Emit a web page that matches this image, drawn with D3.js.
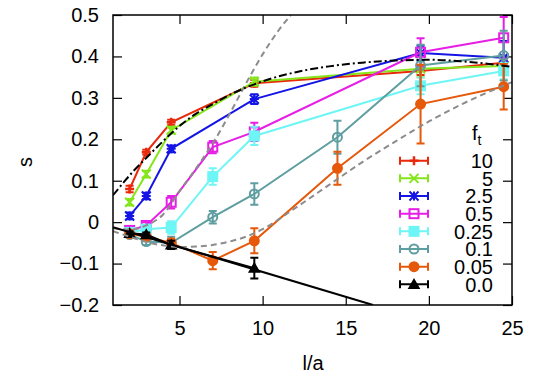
<!DOCTYPE html>
<html>
<head>
<meta charset="utf-8">
<script src="https://cdn.jsdelivr.net/npm/d3@7"></script>
<style>
  body { margin: 0; background: #fff; }
  svg text { font-family: "Liberation Sans", Arial, sans-serif; fill: #000; }
</style>
</head>
<body>
<script>
// data
const xTicks = [5, 10, 15, 20, 25];
const yTicks = [-0.2, -0.1, 0, 0.1, 0.2, 0.3, 0.4, 0.5];
const ftLabels = ["10", "5", "2.5", "0.5", "0.25", "0.1", "0.05", "0.0"];
const colors = ["#e8290b", "#84e61a", "#1414e6", "#e61ee6", "#6ef5f5", "#5f9ea0", "#e6580a", "#000000"];
const markers = ["plus", "cross", "star", "square", "squareFill", "circle", "circleFill", "triangle"];

const lenA = [2, 3, 4.5, 9.5, 19.5, 24.5];
const lenB = [2, 3, 4.5, 7, 9.5, 19.5, 24.5];
const lenC = [2, 3, 4.5, 7, 9.5, 14.5, 19.5, 24.5];
const lenD = [2, 3, 4.5, 9.5];

const s10 = [0.08, 0.169, 0.241, 0.335, 0.365, 0.385];
const e10 = [0.008, 0.006, 0.006, 0.008, 0.01, 0.01];
const s5 = [0.048, 0.116, 0.222, 0.339, 0.37, 0.377];
const e5 = [0.008, 0.008, 0.008, 0.01, 0.02, 0.02];
const s25 = [0.015, 0.063, 0.177, 0.297, 0.408, 0.397];
const e25 = [0.008, 0.008, 0.008, 0.012, 0.018, 0.04];
const s05 = [-0.02, -0.008, 0.048, 0.181, 0.218, 0.41, 0.445];
const e05 = [0.005, 0.008, 0.015, 0.015, 0.022, 0.034, 0.05];
const s025 = [-0.025, -0.017, -0.013, 0.11, 0.208, 0.329, 0.365];
const e025 = [0.005, 0.008, 0.015, 0.02, 0.022, 0.02, 0.02];
const s01 = [-0.03, -0.047, -0.05, 0.012, 0.068, 0.205, 0.378, 0.402];
const e01 = [0.005, 0.008, 0.015, 0.015, 0.026, 0.04, 0.05, 0.06];
const s005 = [-0.028, -0.035, -0.05, -0.093, -0.045, 0.13, 0.285, 0.327];
const e005 = [0.005, 0.005, 0.01, 0.021, 0.03, 0.04, 0.095, 0.055];
const s00 = [-0.027, -0.03, -0.055, -0.111];
const e00 = [0.005, 0.005, 0.01, 0.025];

const seriesX = [lenA, lenA, lenA, lenB, lenB, lenC, lenC, lenD];
const seriesY = [s10, s5, s25, s05, s025, s01, s005, s00];
const seriesE = [e10, e5, e25, e05, e025, e01, e005, e00];

// reference curves
const lineX = [1, 16.64];
const lineY = [-0.012, -0.2];
const dashDotX = [1, 1.6, 2.2, 3, 4, 5, 6, 7, 8, 9, 10, 12, 14, 16, 18, 20, 22, 25];
const dashDotY = [0.065, 0.094, 0.122, 0.155, 0.195, 0.232, 0.262, 0.285, 0.307, 0.325, 0.34, 0.362, 0.376, 0.385, 0.39, 0.392, 0.388, 0.375];
const steepX = [1, 2, 3, 4, 5, 6, 7, 8, 9, 10, 11, 11.7];
const steepY = [-0.015, -0.018, -0.008, 0.018, 0.075, 0.13, 0.19, 0.26, 0.335, 0.405, 0.465, 0.5];
const lowX = [1, 2, 3, 4, 5, 6, 7, 8, 9, 10, 12, 14, 16, 18, 20, 22, 25];
const lowY = [-0.022, -0.035, -0.048, -0.056, -0.06, -0.059, -0.055, -0.047, -0.035, -0.017, 0.035, 0.09, 0.145, 0.195, 0.243, 0.285, 0.338];

const W = 550, H = 373;
const mLeft = 113, mTop = 15, mRight = 512, mBottom = 305;

const svg = d3.select("body").append("svg")
  .attr("width", W).attr("height", H);

const x = d3.scaleLinear().domain([1, 25]).range([mLeft, mRight]);
const y = d3.scaleLinear().domain([-0.2, 0.5]).range([mBottom, mTop]);

svg.append("defs").append("clipPath").attr("id", "clip")
  .append("rect").attr("x", mLeft).attr("y", mTop)
  .attr("width", mRight - mLeft).attr("height", mBottom - mTop);

// axes, ticks pointing inwards on all sides
const fmtY = d => d === 0 ? "0" : d3.format(".1f")(d);
svg.append("g").attr("transform", `translate(${mLeft},0)`)
  .call(d3.axisLeft(y).tickValues(yTicks).tickSize(-9).tickPadding(14).tickFormat(fmtY));
svg.append("g").attr("transform", `translate(${mRight},0)`)
  .call(d3.axisRight(y).tickValues(yTicks).tickSize(-9).tickFormat(""));
svg.append("g").attr("transform", `translate(0,${mBottom})`)
  .call(d3.axisBottom(x).tickValues(xTicks).tickSize(-9).tickPadding(16));
svg.append("g").attr("transform", `translate(0,${mTop})`)
  .call(d3.axisTop(x).tickValues(xTicks).tickSize(-9).tickFormat(""));
svg.selectAll(".domain").remove();
svg.selectAll(".tick line").attr("stroke", "#000").attr("stroke-width", 1.2);
svg.selectAll(".tick text").attr("font-size", 20).attr("font-family", "Liberation Sans, Arial, sans-serif");

svg.append("text").attr("x", 313).attr("y", 370).attr("text-anchor", "middle")
  .attr("font-size", 20).text("l/a");
svg.append("text").attr("transform", "translate(32,162) rotate(-90)")
  .attr("text-anchor", "middle").attr("font-size", 20).text("s");

const plot = svg.append("g").attr("clip-path", "url(#clip)");

function marker(g, type, cx, cy, col) {
  const r = 4.5;
  if (type === "plus") {
    g.append("path").attr("d", `M${cx - r},${cy}H${cx + r}M${cx},${cy - r}V${cy + r}`)
      .attr("stroke", col).attr("stroke-width", 2.5).attr("fill", "none");
  } else if (type === "cross") {
    g.append("path").attr("d", `M${cx - r},${cy - r}L${cx + r},${cy + r}M${cx - r},${cy + r}L${cx + r},${cy - r}`)
      .attr("stroke", col).attr("stroke-width", 2).attr("fill", "none");
  } else if (type === "star") {
    g.append("path").attr("d", `M${cx - r},${cy - r}L${cx + r},${cy + r}M${cx - r},${cy + r}L${cx + r},${cy - r}M${cx - r},${cy}H${cx + r}M${cx},${cy - r}V${cy + r}`)
      .attr("stroke", col).attr("stroke-width", 2).attr("fill", "none");
  } else if (type === "square" || type === "squareFill") {
    g.append("rect").attr("x", cx - r).attr("y", cy - r).attr("width", 2 * r).attr("height", 2 * r)
      .attr("stroke", col).attr("stroke-width", 2)
      .attr("fill", type === "square" ? "none" : col);
  } else if (type === "circle" || type === "circleFill") {
    g.append("circle").attr("cx", cx).attr("cy", cy).attr("r", r)
      .attr("stroke", col).attr("stroke-width", 2)
      .attr("fill", type === "circle" ? "none" : col);
  } else if (type === "triangle") {
    g.append("path").attr("d", d3.symbol(d3.symbolTriangle, 70)())
      .attr("transform", `translate(${cx},${cy + 1})`)
      .attr("fill", col);
  }
}

// data series with error bars
seriesY.forEach((vals, i) => {
  const col = colors[i];
  const xs = seriesX[i];
  const errs = seriesE[i];
  const g = plot.append("g");
  const pts = vals.map((v, j) => [xs[j], v]);
  g.append("path").datum(pts)
    .attr("d", d3.line().x(d => x(d[0])).y(d => y(d[1])))
    .attr("fill", "none").attr("stroke", col).attr("stroke-width", 2);
  pts.forEach((p, j) => {
    const px = x(p[0]);
    const y1 = y(p[1] + errs[j]), y2 = y(p[1] - errs[j]);
    g.append("path")
      .attr("d", `M${px},${y1}V${y2}M${px - 4},${y1}H${px + 4}M${px - 4},${y2}H${px + 4}`)
      .attr("stroke", col).attr("stroke-width", 2).attr("fill", "none");
    marker(g, markers[i], px, y(p[1]), col);
  });
});

// reference curves
const curve = d3.line().x(d => x(d[0])).y(d => y(d[1])).curve(d3.curveMonotoneX);
const zip = (a, b) => a.map((v, i) => [v, b[i]]);
plot.append("path").datum(zip(steepX, steepY)).attr("d", curve)
  .attr("fill", "none").attr("stroke", "#8c8c8c").attr("stroke-width", 2).attr("stroke-dasharray", "6,4");
plot.append("path").datum(zip(lowX, lowY)).attr("d", curve)
  .attr("fill", "none").attr("stroke", "#8c8c8c").attr("stroke-width", 2).attr("stroke-dasharray", "6,4");
plot.append("path").datum(zip(dashDotX, dashDotY)).attr("d", curve)
  .attr("fill", "none").attr("stroke", "#000").attr("stroke-width", 2).attr("stroke-dasharray", "8,3,2,3");
plot.append("path").datum(zip(lineX, lineY)).attr("d", d3.line().x(d => x(d[0])).y(d => y(d[1])))
  .attr("fill", "none").attr("stroke", "#000").attr("stroke-width", 2);

// frame
svg.append("rect").attr("x", mLeft).attr("y", mTop)
  .attr("width", mRight - mLeft).attr("height", mBottom - mTop)
  .attr("fill", "none").attr("stroke", "#000").attr("stroke-width", 1.5);

// legend
const leg = svg.append("g");
const t = leg.append("text").attr("x", 472).attr("y", 140).attr("font-size", 20);
t.append("tspan").text("f");
t.append("tspan").attr("font-size", 14).attr("dy", 5).text("t");
ftLabels.forEach((lab, i) => {
  const cy = 160.7 + i * 17.66;
  const col = colors[i];
  leg.append("path")
    .attr("d", `M400,${cy}H428M400,${cy - 4}V${cy + 4}M428,${cy - 4}V${cy + 4}`)
    .attr("stroke", col).attr("stroke-width", 2).attr("fill", "none");
  marker(leg, markers[i], 414, cy, col);
  leg.append("text").attr("x", 493).attr("y", cy).attr("dy", "0.36em")
    .attr("text-anchor", "end").attr("font-size", 20).text(lab);
});
</script>
</body>
</html>
